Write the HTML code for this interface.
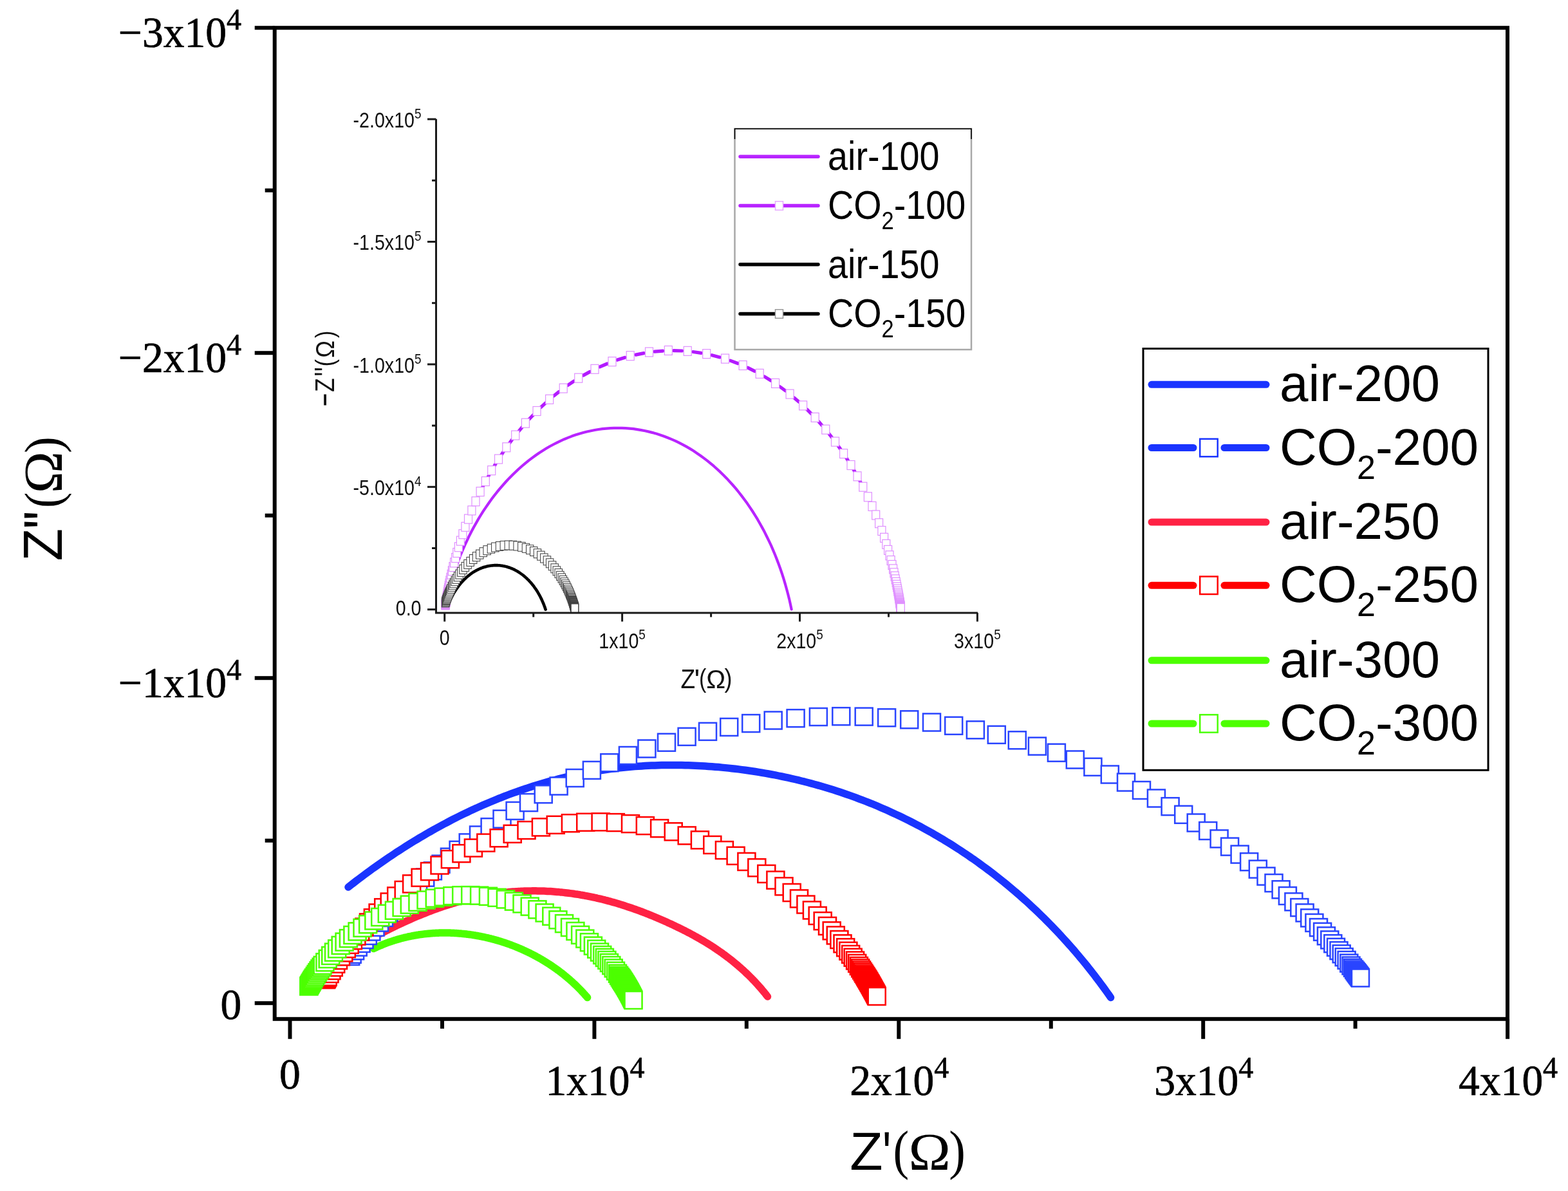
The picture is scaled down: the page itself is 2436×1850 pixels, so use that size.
<!DOCTYPE html>
<html lang="en"><head><meta charset="utf-8"><title>Nyquist plot</title>
<style>html,body{margin:0;padding:0;background:#fff}svg{display:block}.ser{font-family:"Liberation Serif","Noto Serif CJK SC",serif}.san{font-family:"Liberation Sans","Noto Sans CJK SC",sans-serif}</style></head><body>
<svg xmlns="http://www.w3.org/2000/svg" width="2436" height="1850" viewBox="0 0 2436 1850">
<rect width="2436" height="1850" fill="#fff"/>
<g>
<g id="main-series">
<path d="M541 1378 L545.1 1374.8 L549.2 1371.6 L553.3 1368.4 L557.5 1365.2 L561.7 1362.1 L565.8 1359 L570 1355.9 L574.2 1352.8 L578.5 1349.7 L582.7 1346.7 L586.9 1343.7 L591.2 1340.7 L595.5 1337.7 L599.8 1334.7 L604.1 1331.8 L608.4 1328.9 L612.8 1326 L617.1 1323.1 L621.5 1320.3 L625.9 1317.5 L630.3 1314.7 L634.7 1311.9 L639.1 1309.1 L643.6 1306.4 L648.1 1303.7 L652.5 1301 L657 1298.4 L661.5 1295.8 L666 1293.1 L670.6 1290.6 L675.1 1288 L679.7 1285.5 L684.3 1283 L688.8 1280.5 L693.5 1278.1 L698.1 1275.6 L702.7 1273.2 L707.3 1270.9 L712 1268.5 L716.7 1266.2 L721.4 1263.9 L726.1 1261.7 L730.8 1259.4 L735.5 1257.2 L740.3 1255.1 L745 1252.9 L749.8 1250.8 L754.6 1248.7 L759.4 1246.7 L764.2 1244.7 L769 1242.7 L773.8 1240.7 L778.7 1238.8 L783.5 1236.9 L788.4 1235 L793.3 1233.2 L798.2 1231.4 L803.1 1229.7 L808 1227.9 L812.9 1226.2 L817.9 1224.6 L822.8 1222.9 L827.8 1221.3 L832.8 1219.8 L837.8 1218.3 L842.8 1216.8 L847.8 1215.3 L852.8 1213.9 L857.8 1212.5 L862.9 1211.2 L867.9 1209.9 L873 1208.6 L878.1 1207.4 L883.1 1206.2 L888.2 1205.1 L893.3 1204 L898.4 1202.9 L903.5 1201.9 L908.7 1200.9 L913.8 1199.9 L918.9 1199 L924.1 1198.1 L929.2 1197.3 L934.4 1196.5 L939.5 1195.8 L944.7 1195 L949.9 1194.4 L955 1193.7 L960.2 1193.1 L965.4 1192.5 L970.6 1192 L975.8 1191.5 L981 1191.1 L986.2 1190.6 L991.4 1190.3 L996.6 1189.9 L1001.8 1189.6 L1007 1189.3 L1012.2 1189.1 L1017.4 1188.9 L1022.6 1188.7 L1027.8 1188.6 L1033.1 1188.5 L1038.3 1188.5 L1043.5 1188.4 L1048.7 1188.4 L1053.9 1188.5 L1059.1 1188.6 L1064.4 1188.7 L1069.6 1188.8 L1074.8 1189 L1080 1189.2 L1085.2 1189.4 L1090.4 1189.7 L1095.6 1190 L1100.8 1190.4 L1106 1190.7 L1111.2 1191.2 L1116.4 1191.6 L1121.6 1192.1 L1126.8 1192.6 L1132 1193.1 L1137.2 1193.7 L1142.4 1194.3 L1147.5 1194.9 L1152.7 1195.6 L1157.9 1196.3 L1163 1197 L1168.2 1197.7 L1173.4 1198.5 L1178.5 1199.4 L1183.7 1200.2 L1188.8 1201.1 L1193.9 1202 L1199.1 1203 L1204.2 1203.9 L1209.3 1205 L1214.4 1206 L1219.5 1207.1 L1224.6 1208.2 L1229.7 1209.3 L1234.8 1210.5 L1239.8 1211.7 L1244.9 1213 L1250 1214.2 L1255 1215.5 L1260.1 1216.9 L1265.1 1218.2 L1270.1 1219.6 L1275.1 1221.1 L1280.1 1222.5 L1285.1 1224 L1290.1 1225.6 L1295.1 1227.1 L1300.1 1228.7 L1305 1230.3 L1310 1232 L1314.9 1233.7 L1319.8 1235.4 L1324.7 1237.1 L1329.6 1238.9 L1334.5 1240.8 L1339.4 1242.6 L1344.3 1244.5 L1349.1 1246.4 L1354 1248.3 L1358.8 1250.3 L1363.6 1252.3 L1368.4 1254.4 L1373.2 1256.5 L1378 1258.6 L1382.7 1260.7 L1387.5 1262.9 L1392.2 1265.1 L1396.9 1267.3 L1401.6 1269.5 L1406.3 1271.8 L1411 1274.2 L1415.6 1276.5 L1420.2 1278.9 L1424.9 1281.3 L1429.5 1283.7 L1434.1 1286.2 L1438.6 1288.7 L1443.2 1291.3 L1447.8 1293.8 L1452.3 1296.4 L1456.8 1299 L1461.3 1301.7 L1465.8 1304.3 L1470.2 1307.1 L1474.7 1309.8 L1479.1 1312.5 L1483.5 1315.3 L1487.9 1318.2 L1492.3 1321 L1496.6 1323.9 L1500.9 1326.8 L1505.3 1329.7 L1509.5 1332.7 L1513.8 1335.6 L1518.1 1338.7 L1522.3 1341.7 L1526.5 1344.8 L1530.7 1347.9 L1534.9 1351 L1539.1 1354.1 L1543.2 1357.3 L1547.3 1360.5 L1551.4 1363.7 L1555.5 1367 L1559.6 1370.2 L1563.6 1373.5 L1567.6 1376.9 L1571.6 1380.2 L1575.6 1383.6 L1579.6 1387 L1583.5 1390.4 L1587.4 1393.9 L1591.3 1397.3 L1595.2 1400.8 L1599 1404.3 L1602.9 1407.9 L1606.7 1411.4 L1610.5 1415 L1614.2 1418.6 L1618 1422.3 L1621.7 1425.9 L1625.4 1429.6 L1629 1433.3 L1632.7 1437 L1636.3 1440.8 L1639.9 1444.5 L1643.5 1448.3 L1647.1 1452.1 L1650.6 1456 L1654.1 1459.8 L1657.6 1463.7 L1661.1 1467.6 L1664.6 1471.5 L1668 1475.4 L1671.4 1479.4 L1674.8 1483.4 L1678.1 1487.4 L1681.5 1491.4 L1684.8 1495.4 L1688.1 1499.4 L1691.3 1503.5 L1694.6 1507.6 L1697.8 1511.7 L1701 1515.8 L1704.1 1520 L1707.3 1524.1 L1710.4 1528.3 L1713.5 1532.5 L1716.5 1536.7 L1719.6 1541 L1722.6 1545.2 L1725.6 1549.5" fill="none" stroke="#1a34ff" stroke-width="11.5" stroke-linecap="round" stroke-linejoin="round"/>
<path d="M592 1450 L594.3 1448.8 L596.5 1447.6 L598.8 1446.5 L601 1445.3 L603.3 1444.2 L605.6 1443 L607.9 1441.9 L610.2 1440.8 L612.4 1439.6 L614.7 1438.5 L617 1437.4 L619.3 1436.3 L621.6 1435.2 L623.9 1434.2 L626.2 1433.1 L628.6 1432 L630.9 1431 L633.2 1429.9 L635.5 1428.9 L637.8 1427.9 L640.2 1426.8 L642.5 1425.8 L644.9 1424.8 L647.2 1423.8 L649.5 1422.8 L651.9 1421.9 L654.3 1420.9 L656.6 1419.9 L659 1419 L661.3 1418.1 L663.7 1417.1 L666.1 1416.2 L668.5 1415.3 L670.9 1414.4 L673.2 1413.5 L675.6 1412.6 L678 1411.8 L680.4 1410.9 L682.8 1410.1 L685.2 1409.2 L687.6 1408.4 L690 1407.6 L692.5 1406.8 L694.9 1406 L697.3 1405.2 L699.7 1404.5 L702.2 1403.7 L704.6 1403 L707 1402.2 L709.5 1401.5 L711.9 1400.8 L714.4 1400.1 L716.8 1399.4 L719.3 1398.8 L721.7 1398.1 L724.2 1397.5 L726.7 1396.8 L729.1 1396.2 L731.6 1395.6 L734.1 1395 L736.6 1394.4 L739.1 1393.9 L741.5 1393.3 L744 1392.8 L746.5 1392.3 L749 1391.8 L751.5 1391.3 L754 1390.8 L756.5 1390.3 L759 1389.9 L761.5 1389.4 L764.1 1389 L766.6 1388.6 L769.1 1388.2 L771.6 1387.9 L774.1 1387.5 L776.7 1387.2 L779.2 1386.9 L781.7 1386.6 L784.2 1386.3 L786.8 1386 L789.3 1385.8 L791.8 1385.5 L794.4 1385.3 L796.9 1385.1 L799.4 1384.9 L802 1384.7 L804.5 1384.6 L807.1 1384.4 L809.6 1384.3 L812.2 1384.2 L814.7 1384.1 L817.2 1384 L819.8 1383.9 L822.3 1383.9 L824.9 1383.9 L827.4 1383.8 L830 1383.8 L832.5 1383.8 L835.1 1383.9 L837.6 1383.9 L840.2 1384 L842.7 1384 L845.2 1384.1 L847.8 1384.2 L850.3 1384.4 L852.9 1384.5 L855.4 1384.6 L858 1384.8 L860.5 1385 L863 1385.2 L865.6 1385.4 L868.1 1385.6 L870.6 1385.9 L873.2 1386.1 L875.7 1386.4 L878.2 1386.7 L880.8 1387 L883.3 1387.3 L885.8 1387.6 L888.3 1387.9 L890.9 1388.3 L893.4 1388.7 L895.9 1389 L898.4 1389.4 L900.9 1389.8 L903.4 1390.3 L906 1390.7 L908.5 1391.2 L911 1391.6 L913.5 1392.1 L916 1392.6 L918.5 1393.1 L920.9 1393.6 L923.4 1394.2 L925.9 1394.7 L928.4 1395.3 L930.9 1395.8 L933.4 1396.4 L935.8 1397 L938.3 1397.6 L940.8 1398.3 L943.2 1398.9 L945.7 1399.6 L948.2 1400.2 L950.6 1400.9 L953.1 1401.6 L955.5 1402.3 L958 1403 L960.4 1403.7 L962.8 1404.5 L965.3 1405.2 L967.7 1406 L970.1 1406.8 L972.5 1407.6 L975 1408.4 L977.4 1409.2 L979.8 1410 L982.2 1410.8 L984.6 1411.7 L987 1412.5 L989.4 1413.4 L991.8 1414.2 L994.2 1415.1 L996.6 1416 L998.9 1416.9 L1001.3 1417.8 L1003.7 1418.8 L1006.1 1419.7 L1008.4 1420.6 L1010.8 1421.6 L1013.1 1422.5 L1015.5 1423.5 L1017.8 1424.5 L1020.2 1425.5 L1022.5 1426.5 L1024.9 1427.5 L1027.2 1428.5 L1029.5 1429.5 L1031.9 1430.5 L1034.2 1431.6 L1036.5 1432.6 L1038.8 1433.7 L1041.2 1434.7 L1043.5 1435.8 L1045.8 1436.9 L1048.1 1438 L1050.4 1439.1 L1052.7 1440.2 L1055 1441.3 L1057.2 1442.4 L1059.5 1443.5 L1061.8 1444.7 L1064.1 1445.8 L1066.3 1447 L1068.6 1448.2 L1070.9 1449.3 L1073.1 1450.5 L1075.3 1451.7 L1077.6 1452.9 L1079.8 1454.2 L1082 1455.4 L1084.3 1456.7 L1086.5 1457.9 L1088.7 1459.2 L1090.9 1460.5 L1093.1 1461.8 L1095.3 1463.1 L1097.4 1464.4 L1099.6 1465.7 L1101.8 1467.1 L1103.9 1468.4 L1106 1469.8 L1108.2 1471.2 L1110.3 1472.6 L1112.4 1474 L1114.5 1475.5 L1116.6 1476.9 L1118.7 1478.4 L1120.8 1479.8 L1122.9 1481.3 L1124.9 1482.8 L1127 1484.3 L1129 1485.8 L1131 1487.4 L1133.1 1488.9 L1135.1 1490.5 L1137.1 1492.1 L1139.1 1493.7 L1141 1495.3 L1143 1496.9 L1144.9 1498.5 L1146.9 1500.2 L1148.8 1501.9 L1150.7 1503.5 L1152.6 1505.2 L1154.5 1506.9 L1156.4 1508.7 L1158.2 1510.4 L1160.1 1512.1 L1161.9 1513.9 L1163.8 1515.7 L1165.6 1517.5 L1167.4 1519.3 L1169.1 1521.1 L1170.9 1522.9 L1172.7 1524.8 L1174.4 1526.6 L1176.1 1528.5 L1177.8 1530.4 L1179.5 1532.3 L1181.2 1534.2 L1182.9 1536.1 L1184.5 1538.1 L1186.1 1540 L1187.8 1542 L1189.4 1544 L1190.9 1546 L1192.5 1548" fill="none" stroke="#ff2244" stroke-width="11.5" stroke-linecap="round" stroke-linejoin="round"/>
<path d="M580.5 1473.5 L581.8 1472.9 L583 1472.3 L584.3 1471.7 L585.6 1471.1 L586.9 1470.5 L588.2 1470 L589.5 1469.4 L590.8 1468.8 L592.1 1468.3 L593.4 1467.8 L594.7 1467.2 L596 1466.7 L597.3 1466.2 L598.6 1465.7 L599.9 1465.2 L601.2 1464.7 L602.6 1464.2 L603.9 1463.7 L605.2 1463.2 L606.5 1462.8 L607.9 1462.3 L609.2 1461.9 L610.6 1461.4 L611.9 1461 L613.2 1460.6 L614.6 1460.2 L615.9 1459.8 L617.3 1459.4 L618.6 1459 L620 1458.6 L621.3 1458.2 L622.7 1457.8 L624.1 1457.5 L625.4 1457.1 L626.8 1456.8 L628.2 1456.4 L629.5 1456.1 L630.9 1455.8 L632.3 1455.5 L633.7 1455.2 L635 1454.8 L636.4 1454.6 L637.8 1454.3 L639.2 1454 L640.6 1453.7 L641.9 1453.5 L643.3 1453.2 L644.7 1453 L646.1 1452.7 L647.5 1452.5 L648.9 1452.3 L650.3 1452 L651.7 1451.8 L653.1 1451.6 L654.5 1451.4 L655.9 1451.3 L657.3 1451.1 L658.7 1450.9 L660.1 1450.7 L661.5 1450.6 L662.9 1450.4 L664.3 1450.3 L665.7 1450.2 L667.1 1450 L668.5 1449.9 L669.9 1449.8 L671.3 1449.7 L672.7 1449.6 L674.1 1449.5 L675.5 1449.4 L676.9 1449.3 L678.3 1449.3 L679.7 1449.2 L681.1 1449.2 L682.5 1449.1 L683.9 1449.1 L685.3 1449 L686.8 1449 L688.2 1449 L689.6 1449 L691 1449 L692.4 1449 L693.8 1449 L695.2 1449 L696.6 1449 L698 1449.1 L699.4 1449.1 L700.8 1449.2 L702.3 1449.2 L703.7 1449.3 L705.1 1449.3 L706.5 1449.4 L707.9 1449.5 L709.3 1449.6 L710.7 1449.7 L712.1 1449.8 L713.5 1449.9 L714.9 1450 L716.3 1450.1 L717.7 1450.3 L719.1 1450.4 L720.5 1450.5 L721.9 1450.7 L723.3 1450.8 L724.7 1451 L726.1 1451.2 L727.5 1451.4 L728.9 1451.5 L730.3 1451.7 L731.7 1451.9 L733.1 1452.1 L734.5 1452.3 L735.9 1452.6 L737.3 1452.8 L738.7 1453 L740.1 1453.3 L741.4 1453.5 L742.8 1453.7 L744.2 1454 L745.6 1454.3 L747 1454.5 L748.4 1454.8 L749.7 1455.1 L751.1 1455.4 L752.5 1455.7 L753.9 1456 L755.3 1456.3 L756.6 1456.6 L758 1456.9 L759.4 1457.3 L760.7 1457.6 L762.1 1457.9 L763.5 1458.3 L764.8 1458.6 L766.2 1459 L767.6 1459.4 L768.9 1459.7 L770.3 1460.1 L771.6 1460.5 L773 1460.9 L774.3 1461.3 L775.7 1461.7 L777 1462.1 L778.4 1462.5 L779.7 1462.9 L781.1 1463.4 L782.4 1463.8 L783.7 1464.2 L785.1 1464.7 L786.4 1465.1 L787.7 1465.6 L789.1 1466.1 L790.4 1466.5 L791.7 1467 L793 1467.5 L794.4 1468 L795.7 1468.5 L797 1469 L798.3 1469.5 L799.6 1470 L800.9 1470.5 L802.2 1471.1 L803.6 1471.6 L804.9 1472.1 L806.2 1472.7 L807.4 1473.2 L808.7 1473.8 L810 1474.4 L811.3 1474.9 L812.6 1475.5 L813.9 1476.1 L815.2 1476.7 L816.5 1477.3 L817.7 1477.9 L819 1478.5 L820.3 1479.1 L821.5 1479.7 L822.8 1480.3 L824.1 1480.9 L825.3 1481.6 L826.6 1482.2 L827.8 1482.9 L829.1 1483.5 L830.3 1484.2 L831.6 1484.8 L832.8 1485.5 L834 1486.2 L835.3 1486.9 L836.5 1487.5 L837.7 1488.2 L839 1488.9 L840.2 1489.6 L841.4 1490.3 L842.6 1491.1 L843.8 1491.8 L845 1492.5 L846.2 1493.2 L847.4 1494 L848.6 1494.7 L849.8 1495.5 L851 1496.2 L852.2 1497 L853.4 1497.8 L854.6 1498.5 L855.7 1499.3 L856.9 1500.1 L858.1 1500.9 L859.2 1501.7 L860.4 1502.5 L861.5 1503.3 L862.7 1504.1 L863.8 1504.9 L865 1505.7 L866.1 1506.6 L867.3 1507.4 L868.4 1508.2 L869.5 1509.1 L870.6 1509.9 L871.8 1510.8 L872.9 1511.7 L874 1512.5 L875.1 1513.4 L876.2 1514.3 L877.3 1515.2 L878.4 1516.1 L879.5 1517 L880.6 1517.9 L881.6 1518.8 L882.7 1519.7 L883.8 1520.6 L884.8 1521.5 L885.9 1522.4 L887 1523.4 L888 1524.3 L889.1 1525.3 L890.1 1526.2 L891.1 1527.2 L892.2 1528.1 L893.2 1529.1 L894.2 1530.1 L895.2 1531 L896.2 1532 L897.2 1533 L898.2 1534 L899.2 1535 L900.2 1536 L901.2 1537 L902.2 1538 L903.2 1539 L904.1 1540.1 L905.1 1541.1 L906.1 1542.1 L907 1543.2 L908 1544.2 L908.9 1545.3 L909.8 1546.3 L910.8 1547.4 L911.7 1548.4 L912.6 1549.5" fill="none" stroke="#4cff00" stroke-width="11.5" stroke-linecap="round" stroke-linejoin="round"/>
<g fill="#fff" stroke="#2a45ff" stroke-width="2.5">
<rect x="531.2" y="1471.9" width="27" height="27"/>
<rect x="533.7" y="1468.8" width="27" height="27"/>
<rect x="538.1" y="1463.3" width="27" height="27"/>
<rect x="542.7" y="1457.6" width="27" height="27"/>
<rect x="547.6" y="1451.9" width="27" height="27"/>
<rect x="552.5" y="1446" width="27" height="27"/>
<rect x="557.8" y="1439.9" width="27" height="27"/>
<rect x="563.4" y="1433.5" width="27" height="27"/>
<rect x="569.5" y="1426.7" width="27" height="27"/>
<rect x="576" y="1419.5" width="27" height="27"/>
<rect x="583" y="1411.9" width="27" height="27"/>
<rect x="590.5" y="1404" width="27" height="27"/>
<rect x="598.5" y="1395.8" width="27" height="27"/>
<rect x="607" y="1387.2" width="27" height="27"/>
<rect x="616.1" y="1378.3" width="27" height="27"/>
<rect x="625.8" y="1369.1" width="27" height="27"/>
<rect x="636.1" y="1359.5" width="27" height="27"/>
<rect x="647.2" y="1349.6" width="27" height="27"/>
<rect x="658.9" y="1339.3" width="27" height="27"/>
<rect x="671.5" y="1328.7" width="27" height="27"/>
<rect x="684.9" y="1317.7" width="27" height="27"/>
<rect x="698.6" y="1306.8" width="27" height="27"/>
<rect x="713.7" y="1295.4" width="27" height="27"/>
<rect x="730" y="1283.5" width="27" height="27"/>
<rect x="747.6" y="1271.2" width="27" height="27"/>
<rect x="766.5" y="1258.7" width="27" height="27"/>
<rect x="786.6" y="1245.9" width="27" height="27"/>
<rect x="808" y="1233.1" width="27" height="27"/>
<rect x="830.7" y="1220.2" width="27" height="27"/>
<rect x="854.6" y="1207.5" width="27" height="27"/>
<rect x="879.7" y="1195" width="27" height="27"/>
<rect x="905.9" y="1182.9" width="27" height="27"/>
<rect x="933.3" y="1171.2" width="27" height="27"/>
<rect x="961.9" y="1160" width="27" height="27"/>
<rect x="991.4" y="1149.5" width="27" height="27"/>
<rect x="1022" y="1139.7" width="27" height="27"/>
<rect x="1053.6" y="1130.8" width="27" height="27"/>
<rect x="1086" y="1122.8" width="27" height="27"/>
<rect x="1119.2" y="1115.9" width="27" height="27"/>
<rect x="1153.2" y="1110.1" width="27" height="27"/>
<rect x="1187.7" y="1105.5" width="27" height="27"/>
<rect x="1222.6" y="1102.2" width="27" height="27"/>
<rect x="1257.9" y="1100" width="27" height="27"/>
<rect x="1293.3" y="1099.2" width="27" height="27"/>
<rect x="1328.7" y="1099.6" width="27" height="27"/>
<rect x="1364.1" y="1101.3" width="27" height="27"/>
<rect x="1399.2" y="1104.3" width="27" height="27"/>
<rect x="1434" y="1108.5" width="27" height="27"/>
<rect x="1468.2" y="1113.8" width="27" height="27"/>
<rect x="1501.9" y="1120.3" width="27" height="27"/>
<rect x="1534.8" y="1127.8" width="27" height="27"/>
<rect x="1566.8" y="1136.3" width="27" height="27"/>
<rect x="1597.9" y="1145.6" width="27" height="27"/>
<rect x="1627.9" y="1155.7" width="27" height="27"/>
<rect x="1656.8" y="1166.5" width="27" height="27"/>
<rect x="1684.4" y="1177.8" width="27" height="27"/>
<rect x="1710.8" y="1189.5" width="27" height="27"/>
<rect x="1736" y="1201.6" width="27" height="27"/>
<rect x="1760" y="1214" width="27" height="27"/>
<rect x="1782.9" y="1226.5" width="27" height="27"/>
<rect x="1804.6" y="1239.2" width="27" height="27"/>
<rect x="1825.2" y="1251.8" width="27" height="27"/>
<rect x="1844.7" y="1264.5" width="27" height="27"/>
<rect x="1863.2" y="1277" width="27" height="27"/>
<rect x="1880.6" y="1289.4" width="27" height="27"/>
<rect x="1897.1" y="1301.6" width="27" height="27"/>
<rect x="1912.6" y="1313.6" width="27" height="27"/>
<rect x="1927.1" y="1325.2" width="27" height="27"/>
<rect x="1940.8" y="1336.6" width="27" height="27"/>
<rect x="1953.5" y="1347.6" width="27" height="27"/>
<rect x="1965.5" y="1358.1" width="27" height="27"/>
<rect x="1976.6" y="1368.3" width="27" height="27"/>
<rect x="1986.9" y="1378" width="27" height="27"/>
<rect x="1996.4" y="1387.3" width="27" height="27"/>
<rect x="2005.3" y="1396.1" width="27" height="27"/>
<rect x="2013.6" y="1404.4" width="27" height="27"/>
<rect x="2021.2" y="1412.4" width="27" height="27"/>
<rect x="2028.4" y="1419.9" width="27" height="27"/>
<rect x="2035" y="1427.1" width="27" height="27"/>
<rect x="2041.1" y="1433.8" width="27" height="27"/>
<rect x="2046.9" y="1440.3" width="27" height="27"/>
<rect x="2052.3" y="1446.4" width="27" height="27"/>
<rect x="2057.3" y="1452.2" width="27" height="27"/>
<rect x="2062" y="1457.8" width="27" height="27"/>
<rect x="2066.5" y="1463.1" width="27" height="27"/>
<rect x="2070.7" y="1468.2" width="27" height="27"/>
<rect x="2074.7" y="1473.1" width="27" height="27"/>
<rect x="2078.6" y="1477.9" width="27" height="27"/>
<rect x="2082.3" y="1482.6" width="27" height="27"/>
<rect x="2085.5" y="1486.5" width="27" height="27"/>
<rect x="2088" y="1489.8" width="27" height="27"/>
<rect x="2090.1" y="1492.5" width="27" height="27"/>
<rect x="2091.6" y="1494.5" width="27" height="27"/>
<rect x="2092.8" y="1496" width="27" height="27"/>
<rect x="2093.7" y="1497.2" width="27" height="27"/>
<rect x="2094.6" y="1498.3" width="27" height="27"/>
<rect x="2095.4" y="1499.4" width="27" height="27"/>
<rect x="2096.2" y="1500.5" width="27" height="27"/>
<rect x="2097" y="1501.5" width="27" height="27"/>
<rect x="2097.8" y="1502.6" width="27" height="27"/>
<rect x="2098.6" y="1503.6" width="27" height="27"/>
<rect x="2099.3" y="1504.6" width="27" height="27"/>
<rect x="2100" y="1505.5" width="27" height="27"/>
</g>
<g fill="#fff" stroke="#ff0000" stroke-width="2.5">
<rect x="493.1" y="1508.1" width="27" height="27"/>
<rect x="493.8" y="1506.8" width="27" height="27"/>
<rect x="494.7" y="1505.3" width="27" height="27"/>
<rect x="495.7" y="1503.7" width="27" height="27"/>
<rect x="498.5" y="1499" width="27" height="27"/>
<rect x="501.5" y="1494.1" width="27" height="27"/>
<rect x="504.8" y="1489" width="27" height="27"/>
<rect x="508.2" y="1483.7" width="27" height="27"/>
<rect x="512" y="1478.1" width="27" height="27"/>
<rect x="516" y="1472.3" width="27" height="27"/>
<rect x="520.3" y="1466.3" width="27" height="27"/>
<rect x="524.8" y="1460.1" width="27" height="27"/>
<rect x="529.7" y="1453.8" width="27" height="27"/>
<rect x="534.9" y="1447.2" width="27" height="27"/>
<rect x="540.4" y="1440.5" width="27" height="27"/>
<rect x="546.2" y="1433.6" width="27" height="27"/>
<rect x="552.4" y="1426.6" width="27" height="27"/>
<rect x="559" y="1419.4" width="27" height="27"/>
<rect x="565.9" y="1412.2" width="27" height="27"/>
<rect x="573.6" y="1404.5" width="27" height="27"/>
<rect x="582.2" y="1396.2" width="27" height="27"/>
<rect x="591.7" y="1387.5" width="27" height="27"/>
<rect x="602.2" y="1378.4" width="27" height="27"/>
<rect x="613.7" y="1369" width="27" height="27"/>
<rect x="626.1" y="1359.4" width="27" height="27"/>
<rect x="639.6" y="1349.7" width="27" height="27"/>
<rect x="654" y="1340.1" width="27" height="27"/>
<rect x="669.5" y="1330.5" width="27" height="27"/>
<rect x="685.9" y="1321.2" width="27" height="27"/>
<rect x="703.4" y="1312.2" width="27" height="27"/>
<rect x="721.9" y="1303.6" width="27" height="27"/>
<rect x="741.3" y="1295.6" width="27" height="27"/>
<rect x="761.6" y="1288.3" width="27" height="27"/>
<rect x="782.7" y="1281.8" width="27" height="27"/>
<rect x="804.5" y="1276.1" width="27" height="27"/>
<rect x="826.9" y="1271.4" width="27" height="27"/>
<rect x="849.7" y="1267.8" width="27" height="27"/>
<rect x="872.9" y="1265.2" width="27" height="27"/>
<rect x="896.2" y="1263.7" width="27" height="27"/>
<rect x="919.6" y="1263.3" width="27" height="27"/>
<rect x="942.9" y="1264.1" width="27" height="27"/>
<rect x="966" y="1266.1" width="27" height="27"/>
<rect x="988.8" y="1269.1" width="27" height="27"/>
<rect x="1011.1" y="1273.2" width="27" height="27"/>
<rect x="1032.7" y="1278.3" width="27" height="27"/>
<rect x="1053.7" y="1284.4" width="27" height="27"/>
<rect x="1073.9" y="1291.3" width="27" height="27"/>
<rect x="1093.3" y="1298.9" width="27" height="27"/>
<rect x="1111.9" y="1307.1" width="27" height="27"/>
<rect x="1129.6" y="1315.8" width="27" height="27"/>
<rect x="1146.4" y="1324.9" width="27" height="27"/>
<rect x="1162.3" y="1334.3" width="27" height="27"/>
<rect x="1177.3" y="1343.9" width="27" height="27"/>
<rect x="1191.4" y="1353.6" width="27" height="27"/>
<rect x="1204.5" y="1363.3" width="27" height="27"/>
<rect x="1216.7" y="1373" width="27" height="27"/>
<rect x="1228" y="1382.4" width="27" height="27"/>
<rect x="1238.4" y="1391.5" width="27" height="27"/>
<rect x="1247.9" y="1400.4" width="27" height="27"/>
<rect x="1256.7" y="1408.9" width="27" height="27"/>
<rect x="1264.7" y="1417.1" width="27" height="27"/>
<rect x="1272" y="1424.9" width="27" height="27"/>
<rect x="1278.7" y="1432.3" width="27" height="27"/>
<rect x="1284.8" y="1439.4" width="27" height="27"/>
<rect x="1290.4" y="1446" width="27" height="27"/>
<rect x="1295.5" y="1452.3" width="27" height="27"/>
<rect x="1300.2" y="1458.2" width="27" height="27"/>
<rect x="1304.4" y="1463.7" width="27" height="27"/>
<rect x="1308.2" y="1468.9" width="27" height="27"/>
<rect x="1311.7" y="1473.7" width="27" height="27"/>
<rect x="1315.1" y="1478.5" width="27" height="27"/>
<rect x="1318.2" y="1482.9" width="27" height="27"/>
<rect x="1320.9" y="1487" width="27" height="27"/>
<rect x="1323.2" y="1490.4" width="27" height="27"/>
<rect x="1325.1" y="1493.4" width="27" height="27"/>
<rect x="1326.9" y="1496.1" width="27" height="27"/>
<rect x="1328.4" y="1498.6" width="27" height="27"/>
<rect x="1329.9" y="1500.9" width="27" height="27"/>
<rect x="1331.2" y="1503" width="27" height="27"/>
<rect x="1332.3" y="1504.9" width="27" height="27"/>
<rect x="1333.4" y="1506.6" width="27" height="27"/>
<rect x="1334.4" y="1508.3" width="27" height="27"/>
<rect x="1335.3" y="1509.8" width="27" height="27"/>
<rect x="1336.2" y="1511.3" width="27" height="27"/>
<rect x="1337" y="1512.8" width="27" height="27"/>
<rect x="1337.9" y="1514.2" width="27" height="27"/>
<rect x="1338.7" y="1515.6" width="27" height="27"/>
<rect x="1339.5" y="1517" width="27" height="27"/>
<rect x="1340.2" y="1518.4" width="27" height="27"/>
<rect x="1341" y="1519.7" width="27" height="27"/>
<rect x="1341.7" y="1521" width="27" height="27"/>
<rect x="1342.4" y="1522.3" width="27" height="27"/>
<rect x="1343.1" y="1523.6" width="27" height="27"/>
<rect x="1343.8" y="1524.8" width="27" height="27"/>
<rect x="1344.5" y="1526.1" width="27" height="27"/>
<rect x="1345.1" y="1527.3" width="27" height="27"/>
<rect x="1345.8" y="1528.4" width="27" height="27"/>
<rect x="1346.4" y="1529.6" width="27" height="27"/>
<rect x="1347" y="1530.7" width="27" height="27"/>
<rect x="1347.6" y="1531.9" width="27" height="27"/>
<rect x="1348.1" y="1532.9" width="27" height="27"/>
<rect x="1348.7" y="1534" width="27" height="27"/>
</g>
<g fill="#fff" stroke="#4cff00" stroke-width="2.5">
<rect x="466.3" y="1518.5" width="27" height="27"/>
<rect x="467" y="1517.2" width="27" height="27"/>
<rect x="467.8" y="1515.8" width="27" height="27"/>
<rect x="468.7" y="1514.3" width="27" height="27"/>
<rect x="469.6" y="1512.7" width="27" height="27"/>
<rect x="470.6" y="1511.1" width="27" height="27"/>
<rect x="471.6" y="1509.3" width="27" height="27"/>
<rect x="472.7" y="1507.5" width="27" height="27"/>
<rect x="474" y="1505.4" width="27" height="27"/>
<rect x="475.8" y="1502.7" width="27" height="27"/>
<rect x="477.6" y="1499.9" width="27" height="27"/>
<rect x="479.5" y="1497.1" width="27" height="27"/>
<rect x="481.5" y="1494.3" width="27" height="27"/>
<rect x="483.5" y="1491.5" width="27" height="27"/>
<rect x="485.6" y="1488.7" width="27" height="27"/>
<rect x="487.7" y="1485.9" width="27" height="27"/>
<rect x="491.4" y="1481.2" width="27" height="27"/>
<rect x="495.7" y="1476" width="27" height="27"/>
<rect x="500.2" y="1470.9" width="27" height="27"/>
<rect x="505" y="1465.6" width="27" height="27"/>
<rect x="510.2" y="1460.3" width="27" height="27"/>
<rect x="515.7" y="1454.9" width="27" height="27"/>
<rect x="521.6" y="1449.6" width="27" height="27"/>
<rect x="527.9" y="1444.1" width="27" height="27"/>
<rect x="534.4" y="1438.9" width="27" height="27"/>
<rect x="541.6" y="1433.4" width="27" height="27"/>
<rect x="549.5" y="1427.8" width="27" height="27"/>
<rect x="558.1" y="1422.2" width="27" height="27"/>
<rect x="567.3" y="1416.5" width="27" height="27"/>
<rect x="577.2" y="1411" width="27" height="27"/>
<rect x="587.8" y="1405.7" width="27" height="27"/>
<rect x="598.9" y="1400.7" width="27" height="27"/>
<rect x="610.6" y="1396" width="27" height="27"/>
<rect x="622.8" y="1391.7" width="27" height="27"/>
<rect x="635.4" y="1387.8" width="27" height="27"/>
<rect x="648.5" y="1384.5" width="27" height="27"/>
<rect x="661.8" y="1381.7" width="27" height="27"/>
<rect x="675.5" y="1379.6" width="27" height="27"/>
<rect x="689.3" y="1378.1" width="27" height="27"/>
<rect x="703.2" y="1377.2" width="27" height="27"/>
<rect x="717.2" y="1377.1" width="27" height="27"/>
<rect x="731.1" y="1377.6" width="27" height="27"/>
<rect x="744.9" y="1378.8" width="27" height="27"/>
<rect x="758.5" y="1380.8" width="27" height="27"/>
<rect x="771.9" y="1383.4" width="27" height="27"/>
<rect x="784.9" y="1386.6" width="27" height="27"/>
<rect x="797.5" y="1390.3" width="27" height="27"/>
<rect x="809.7" y="1394.6" width="27" height="27"/>
<rect x="821.4" y="1399.3" width="27" height="27"/>
<rect x="832.6" y="1404.4" width="27" height="27"/>
<rect x="843.3" y="1409.7" width="27" height="27"/>
<rect x="853.4" y="1415.3" width="27" height="27"/>
<rect x="863" y="1421.1" width="27" height="27"/>
<rect x="872" y="1427" width="27" height="27"/>
<rect x="880.4" y="1432.9" width="27" height="27"/>
<rect x="888.1" y="1438.8" width="27" height="27"/>
<rect x="895.3" y="1444.6" width="27" height="27"/>
<rect x="901.9" y="1450.2" width="27" height="27"/>
<rect x="907.9" y="1455.6" width="27" height="27"/>
<rect x="913.2" y="1460.7" width="27" height="27"/>
<rect x="918" y="1465.5" width="27" height="27"/>
<rect x="922.2" y="1469.9" width="27" height="27"/>
<rect x="925.9" y="1473.9" width="27" height="27"/>
<rect x="929.4" y="1477.9" width="27" height="27"/>
<rect x="932.9" y="1482" width="27" height="27"/>
<rect x="936.3" y="1486.1" width="27" height="27"/>
<rect x="939.7" y="1490.4" width="27" height="27"/>
<rect x="943" y="1494.7" width="27" height="27"/>
<rect x="946" y="1498.8" width="27" height="27"/>
<rect x="948.1" y="1501.8" width="27" height="27"/>
<rect x="949.8" y="1504.3" width="27" height="27"/>
<rect x="951.2" y="1506.3" width="27" height="27"/>
<rect x="952.3" y="1507.9" width="27" height="27"/>
<rect x="953.2" y="1509.4" width="27" height="27"/>
<rect x="954.2" y="1510.9" width="27" height="27"/>
<rect x="955.1" y="1512.3" width="27" height="27"/>
<rect x="956" y="1513.7" width="27" height="27"/>
<rect x="956.9" y="1515.2" width="27" height="27"/>
<rect x="957.8" y="1516.6" width="27" height="27"/>
<rect x="958.6" y="1517.9" width="27" height="27"/>
<rect x="959.4" y="1519.3" width="27" height="27"/>
<rect x="960.2" y="1520.7" width="27" height="27"/>
<rect x="961" y="1522" width="27" height="27"/>
<rect x="961.7" y="1523.3" width="27" height="27"/>
<rect x="962.5" y="1524.6" width="27" height="27"/>
<rect x="963.2" y="1525.9" width="27" height="27"/>
<rect x="963.9" y="1527.1" width="27" height="27"/>
<rect x="964.6" y="1528.4" width="27" height="27"/>
<rect x="965.2" y="1529.6" width="27" height="27"/>
<rect x="965.9" y="1530.8" width="27" height="27"/>
<rect x="966.5" y="1532" width="27" height="27"/>
<rect x="967.1" y="1533.2" width="27" height="27"/>
<rect x="967.7" y="1534.4" width="27" height="27"/>
<rect x="968.3" y="1535.6" width="27" height="27"/>
<rect x="968.9" y="1536.7" width="27" height="27"/>
<rect x="969.4" y="1537.8" width="27" height="27"/>
<rect x="970" y="1538.9" width="27" height="27"/>
<rect x="970.5" y="1540" width="27" height="27"/>
</g>
</g>
<g id="main-axes" stroke="#000" stroke-width="6" fill="none" stroke-linecap="butt">
<rect x="426.7" y="43.2" width="1915.3" height="1539.6"/>
<line x1="395.7" y1="1558.2" x2="426.7" y2="1558.2"/>
<line x1="411.7" y1="1305.7" x2="426.7" y2="1305.7"/>
<line x1="395.7" y1="1053.2" x2="426.7" y2="1053.2"/>
<line x1="411.7" y1="800.7" x2="426.7" y2="800.7"/>
<line x1="395.7" y1="548.2" x2="426.7" y2="548.2"/>
<line x1="411.7" y1="295.7" x2="426.7" y2="295.7"/>
<line x1="395.7" y1="43.2" x2="426.7" y2="43.2"/>
<line x1="450.5" y1="1582.8" x2="450.5" y2="1613.8"/>
<line x1="687" y1="1582.8" x2="687" y2="1597.8"/>
<line x1="923.4" y1="1582.8" x2="923.4" y2="1613.8"/>
<line x1="1159.8" y1="1582.8" x2="1159.8" y2="1597.8"/>
<line x1="1396.3" y1="1582.8" x2="1396.3" y2="1613.8"/>
<line x1="1632.8" y1="1582.8" x2="1632.8" y2="1597.8"/>
<line x1="1869.2" y1="1582.8" x2="1869.2" y2="1613.8"/>
<line x1="2105.6" y1="1582.8" x2="2105.6" y2="1597.8"/>
<line x1="2342.1" y1="1582.8" x2="2342.1" y2="1613.8"/>
</g>
<g id="main-ticklabels" class="ser" font-size="67" fill="#000" stroke="#000" stroke-width="0.7" stroke-linejoin="round">
<text transform="translate(375.2 1583.2) scale(0.978 1)" text-anchor="end">0</text>
<text transform="translate(375 1082.9) scale(0.978 1)" text-anchor="end">−1x10<tspan dy="-27" font-size="47">4</tspan></text>
<text transform="translate(375 577.9) scale(0.978 1)" text-anchor="end">−2x10<tspan dy="-27" font-size="47">4</tspan></text>
<text transform="translate(375 72.9) scale(0.978 1)" text-anchor="end">−3x10<tspan dy="-27" font-size="47">4</tspan></text>
<text transform="translate(450.5 1691) scale(0.978 1)" text-anchor="middle">0</text>
<text transform="translate(924.4 1701) scale(0.978 1)" text-anchor="middle">1x10<tspan dy="-27" font-size="47">4</tspan></text>
<text transform="translate(1397.3 1701) scale(0.978 1)" text-anchor="middle">2x10<tspan dy="-27" font-size="47">4</tspan></text>
<text transform="translate(1870.2 1701) scale(0.978 1)" text-anchor="middle">3x10<tspan dy="-27" font-size="47">4</tspan></text>
<text transform="translate(2343.1 1701) scale(0.978 1)" text-anchor="middle">4x10<tspan dy="-27" font-size="47">4</tspan></text>
</g>
<g id="x-title" fill="#000">
<text class="san" font-size="100" transform="matrix(0.84 0 0 0.84 1320.31 1816.5)">Z</text>
<text class="san" font-size="100" transform="matrix(0.7 0 0 0.99 1370.93 1826.44)">&#39;</text>
<text class="ser" font-size="100" transform="matrix(0.74 0 0 0.84 1387.55 1815.45)">(</text>
<text class="ser" font-size="100" transform="matrix(0.88 0 0 0.83 1411.53 1816.5)">Ω</text>
<text class="ser" font-size="100" transform="matrix(0.77 0 0 0.84 1474.22 1815.45)">)</text>
</g>
<g id="y-title" fill="#000">
<text class="san" font-size="100" transform="matrix(0 -0.83 0.85 0 95.9 871.46)">Z</text>
<text class="san" font-size="100" transform="matrix(0 -0.83 0.93 0 101.52 822.15)">&#39;</text>
<text class="san" font-size="100" transform="matrix(0 -0.83 0.93 0 101.52 808.75)">&#39;</text>
<text class="ser" font-size="100" transform="matrix(0 -0.73 0.81 0 93.89 788.9)">(</text>
<text class="ser" font-size="100" transform="matrix(0 -0.88 0.84 0 95.9 766.17)">Ω</text>
<text class="ser" font-size="100" transform="matrix(0 -0.78 0.81 0 93.89 703.9)">)</text>
</g>
<g id="main-legend">
<rect x="1776" y="541.5" width="536" height="654.8" fill="#fff" stroke="#000" stroke-width="3"/>
<path d="M1789 597.3 L1967 597.3" fill="none" stroke="#1a34ff" stroke-width="11" stroke-linecap="round" stroke-linejoin="round"/>
<text class="san" x="1988" y="623.3" font-size="80" fill="#000">air-200</text>
<path d="M1789 695.5 L1854 695.5" fill="none" stroke="#1a34ff" stroke-width="11" stroke-linecap="round" stroke-linejoin="round"/>
<path d="M1902 695.5 L1967 695.5" fill="none" stroke="#1a34ff" stroke-width="11" stroke-linecap="round" stroke-linejoin="round"/>
<g fill="#fff" stroke="#1a34ff" stroke-width="2.5">
<rect x="1864.2" y="681.8" width="27.5" height="27.5"/>
</g>
<text class="san" x="1988" y="721.5" font-size="80" fill="#000">CO<tspan dy="22" font-size="52">2</tspan><tspan dy="-22">-200</tspan></text>
<path d="M1789 811.1 L1967 811.1" fill="none" stroke="#ff2244" stroke-width="11" stroke-linecap="round" stroke-linejoin="round"/>
<text class="san" x="1988" y="837.1" font-size="80" fill="#000">air-250</text>
<path d="M1789 909.3 L1854 909.3" fill="none" stroke="#ff0000" stroke-width="11" stroke-linecap="round" stroke-linejoin="round"/>
<path d="M1902 909.3 L1967 909.3" fill="none" stroke="#ff0000" stroke-width="11" stroke-linecap="round" stroke-linejoin="round"/>
<g fill="#fff" stroke="#ff0000" stroke-width="2.5">
<rect x="1864.2" y="895.5" width="27.5" height="27.5"/>
</g>
<text class="san" x="1988" y="935.3" font-size="80" fill="#000">CO<tspan dy="22" font-size="52">2</tspan><tspan dy="-22">-250</tspan></text>
<path d="M1789 1025.8 L1967 1025.8" fill="none" stroke="#4cff00" stroke-width="11" stroke-linecap="round" stroke-linejoin="round"/>
<text class="san" x="1988" y="1051.8" font-size="80" fill="#000">air-300</text>
<path d="M1789 1124 L1854 1124" fill="none" stroke="#4cff00" stroke-width="11" stroke-linecap="round" stroke-linejoin="round"/>
<path d="M1902 1124 L1967 1124" fill="none" stroke="#4cff00" stroke-width="11" stroke-linecap="round" stroke-linejoin="round"/>
<g fill="#fff" stroke="#4cff00" stroke-width="2.5">
<rect x="1864.2" y="1110.2" width="27.5" height="27.5"/>
</g>
<text class="san" x="1988" y="1150" font-size="80" fill="#000">CO<tspan dy="22" font-size="52">2</tspan><tspan dy="-22">-300</tspan></text>
</g>
<g id="inset">
<path d="M692 938 L693.8 930 L695.8 922.2 L697.9 914.3 L700.1 906.5 L702.4 898.8 L704.9 891.2 L707.4 883.7 L710.1 876.2 L712.9 868.8 L715.8 861.5 L718.9 854.2 L722 847.1 L725.3 840.1 L728.6 833.1 L732.1 826.3 L735.7 819.6 L739.4 812.9 L743.1 806.4 L747 800 L751 793.7 L755.1 787.6 L759.3 781.5 L763.5 775.6 L767.9 769.8 L772.3 764.2 L776.9 758.7 L781.5 753.3 L786.2 748 L791 742.9 L795.9 738 L800.8 733.2 L805.8 728.5 L810.9 724 L816.1 719.6 L821.3 715.4 L826.6 711.4 L831.9 707.5 L837.3 703.7 L842.8 700.2 L848.3 696.8 L853.9 693.5 L859.5 690.5 L865.2 687.6 L870.9 684.8 L876.7 682.2 L882.4 679.9 L888.3 677.6 L894.1 675.6 L900 673.7 L906 672 L911.9 670.5 L917.9 669.2 L923.9 668 L929.9 667 L935.9 666.2 L941.9 665.6 L948 665.1 L954 664.9 L960.1 664.8 L966.1 664.9 L972.1 665.2 L978.2 665.6 L984.2 666.2 L990.2 667.1 L996.2 668.1 L1002.2 669.2 L1008.2 670.6 L1014.1 672.1 L1020.1 673.8 L1026 675.7 L1031.8 677.7 L1037.6 680 L1043.4 682.4 L1049.2 684.9 L1054.9 687.7 L1060.6 690.6 L1066.2 693.7 L1071.8 696.9 L1077.3 700.3 L1082.7 703.9 L1088.2 707.7 L1093.5 711.6 L1098.8 715.6 L1104 719.8 L1109.2 724.2 L1114.2 728.7 L1119.3 733.4 L1124.2 738.2 L1129.1 743.2 L1133.8 748.3 L1138.5 753.5 L1143.2 758.9 L1147.7 764.5 L1152.1 770.1 L1156.5 775.9 L1160.8 781.8 L1164.9 787.9 L1169 794 L1173 800.3 L1176.9 806.7 L1180.6 813.3 L1184.3 819.9 L1187.9 826.6 L1191.3 833.5 L1194.7 840.4 L1198 847.4 L1201.1 854.6 L1204.1 861.8 L1207 869.1 L1209.8 876.5 L1212.5 884 L1215.1 891.6 L1217.5 899.2 L1219.8 906.9 L1222 914.7 L1224.1 922.5 L1226.1 930.4 L1227.9 938.4 L1229.6 946.4" fill="none" stroke="#b824ff" stroke-width="4.2" stroke-linecap="round" stroke-linejoin="round"/>
<path d="M696.4 939.3 L697.2 937.4 L697.9 935.5 L698.8 933.6 L699.6 931.8 L700.5 930 L701.3 928.2 L702.3 926.4 L703.2 924.6 L704.1 922.9 L705.1 921.2 L706.1 919.5 L707.2 917.9 L708.2 916.3 L709.3 914.7 L710.4 913.1 L711.5 911.6 L712.6 910 L713.8 908.6 L715 907.1 L716.1 905.7 L717.4 904.3 L718.6 902.9 L719.8 901.6 L721.1 900.3 L722.4 899.1 L723.7 897.8 L725 896.6 L726.3 895.5 L727.7 894.3 L729.1 893.3 L730.4 892.2 L731.8 891.2 L733.2 890.2 L734.7 889.2 L736.1 888.3 L737.5 887.5 L739 886.6 L740.5 885.8 L741.9 885.1 L743.4 884.3 L744.9 883.7 L746.4 883 L747.9 882.4 L749.5 881.8 L751 881.3 L752.5 880.8 L754.1 880.4 L755.6 880 L757.2 879.6 L758.7 879.3 L760.3 879 L761.9 878.7 L763.4 878.5 L765 878.4 L766.6 878.2 L768.1 878.1 L769.7 878.1 L771.3 878.1 L772.9 878.1 L774.5 878.2 L776 878.3 L777.6 878.5 L779.2 878.7 L780.7 878.9 L782.3 879.2 L783.9 879.5 L785.4 879.9 L787 880.3 L788.5 880.7 L790 881.2 L791.6 881.7 L793.1 882.3 L794.6 882.9 L796.1 883.5 L797.6 884.2 L799.1 884.9 L800.6 885.7 L802.1 886.5 L803.5 887.3 L805 888.1 L806.4 889.1 L807.8 890 L809.2 891 L810.6 892 L812 893 L813.4 894.1 L814.7 895.2 L816.1 896.4 L817.4 897.6 L818.7 898.8 L820 900.1 L821.3 901.3 L822.5 902.7 L823.7 904 L825 905.4 L826.2 906.8 L827.3 908.3 L828.5 909.7 L829.6 911.2 L830.7 912.8 L831.8 914.3 L832.9 915.9 L834 917.5 L835 919.2 L836 920.9 L837 922.6 L838 924.3 L838.9 926 L839.8 927.8 L840.7 929.6 L841.6 931.4 L842.4 933.3 L843.2 935.1 L844 937 L844.8 938.9 L845.5 940.8 L846.3 942.8 L846.9 944.7 L847.6 946.7" fill="none" stroke="#000" stroke-width="4.6" stroke-linecap="round" stroke-linejoin="round"/>
<path d="M750 756.1L750.5 755.2M758.5 740.2L759.6 738.2M768.1 723.5L770.1 720.3M779.2 706L782 701.9M791.8 688L795.6 682.9M806.1 669.6L811 663.8M822.2 651L828.2 644.7M840.3 632.7L847.4 626.1M860.3 615L868.6 608.4M882.2 598.3L891.7 592M906.1 583.1L916.6 577.4M931.8 569.9L943.2 565M959.1 559.1L971.1 555.3M987.6 551.1L1000.1 548.6M1016.9 546.2L1029.8 545.1M1046.8 544.7L1059.7 545M1076.6 546.5L1089.3 548.4M1106 551.7L1118.3 554.9M1134.5 560.1L1146.2 564.5M1161.7 571.2L1172.6 576.6M1187.5 584.9L1197.4 591M1211.4 600.5L1220.3 607M1233.5 617.7L1241.2 624.3M1253.6 635.9L1260.1 642.4M1271.8 654.8L1277.1 660.9M1288 673.9L1292.3 679.4M1302.4 693L1305.7 697.6M1315.1 711.7L1317.4 715.4M1326.3 729.9L1327.8 732.4M1336 747.3L1336.8 748.7" fill="none" stroke="#b31aff" stroke-width="5.2" stroke-linecap="round"/>
<g fill="#fff" stroke="#df90ff" stroke-width="1.2">
<rect x="686" y="933" width="12" height="14"/>
<rect x="686.1" y="932.3" width="12" height="14"/>
<rect x="686.2" y="931.5" width="12" height="14"/>
<rect x="686.4" y="930.6" width="12" height="14"/>
<rect x="686.5" y="929.7" width="12" height="14"/>
<rect x="686.7" y="928.6" width="12" height="14"/>
<rect x="686.9" y="927.5" width="12" height="14"/>
<rect x="687.1" y="926.2" width="12" height="14"/>
<rect x="687.3" y="924.7" width="12" height="14"/>
<rect x="687.6" y="923.2" width="12" height="14"/>
<rect x="687.9" y="921.4" width="12" height="14"/>
<rect x="688.2" y="919.5" width="12" height="14"/>
<rect x="688.6" y="917.4" width="12" height="14"/>
<rect x="689" y="915.1" width="12" height="14"/>
<rect x="689.5" y="912.5" width="12" height="14"/>
<rect x="690" y="909.6" width="12" height="14"/>
<rect x="690.6" y="906.5" width="12" height="14"/>
<rect x="691.3" y="903" width="12" height="14"/>
<rect x="692" y="899.2" width="12" height="14"/>
<rect x="692.9" y="895" width="12" height="14"/>
<rect x="693.9" y="890.4" width="12" height="14"/>
<rect x="695.1" y="885.3" width="12" height="14"/>
<rect x="696.4" y="879.7" width="12" height="14"/>
<rect x="697.9" y="873.6" width="12" height="14"/>
<rect x="699.6" y="866.9" width="12" height="14"/>
<rect x="701.6" y="859.5" width="12" height="14"/>
<rect x="703.8" y="851.5" width="12" height="14"/>
<rect x="706.4" y="842.7" width="12" height="14"/>
<rect x="709.4" y="833.1" width="12" height="14"/>
<rect x="712.9" y="822.7" width="12" height="14"/>
<rect x="716.9" y="811.3" width="12" height="14"/>
<rect x="721.5" y="799.1" width="12" height="14"/>
<rect x="726.9" y="785.9" width="12" height="14"/>
<rect x="733" y="771.8" width="12" height="14"/>
<rect x="740.1" y="756.7" width="12" height="14"/>
<rect x="748.3" y="740.6" width="12" height="14"/>
<rect x="757.7" y="723.7" width="12" height="14"/>
<rect x="768.5" y="706.1" width="12" height="14"/>
<rect x="780.8" y="687.8" width="12" height="14"/>
<rect x="794.7" y="669.1" width="12" height="14"/>
<rect x="810.4" y="650.2" width="12" height="14"/>
<rect x="828" y="631.5" width="12" height="14"/>
<rect x="847.6" y="613.3" width="12" height="14"/>
<rect x="869.2" y="596.1" width="12" height="14"/>
<rect x="892.7" y="580.2" width="12" height="14"/>
<rect x="918" y="566.3" width="12" height="14"/>
<rect x="945" y="554.6" width="12" height="14"/>
<rect x="973.2" y="545.7" width="12" height="14"/>
<rect x="1002.5" y="539.9" width="12" height="14"/>
<rect x="1032.3" y="537.4" width="12" height="14"/>
<rect x="1062.2" y="538.3" width="12" height="14"/>
<rect x="1091.7" y="542.6" width="12" height="14"/>
<rect x="1120.5" y="550.1" width="12" height="14"/>
<rect x="1148.1" y="560.5" width="12" height="14"/>
<rect x="1174.2" y="573.4" width="12" height="14"/>
<rect x="1198.6" y="588.4" width="12" height="14"/>
<rect x="1221.1" y="605.1" width="12" height="14"/>
<rect x="1241.6" y="622.9" width="12" height="14"/>
<rect x="1260.2" y="641.4" width="12" height="14"/>
<rect x="1276.8" y="660.2" width="12" height="14"/>
<rect x="1291.5" y="679.1" width="12" height="14"/>
<rect x="1304.6" y="697.6" width="12" height="14"/>
<rect x="1316" y="715.5" width="12" height="14"/>
<rect x="1326" y="732.8" width="12" height="14"/>
<rect x="1334.8" y="749.2" width="12" height="14"/>
<rect x="1342.4" y="764.8" width="12" height="14"/>
<rect x="1349" y="779.4" width="12" height="14"/>
<rect x="1354.7" y="793" width="12" height="14"/>
<rect x="1359.6" y="805.7" width="12" height="14"/>
<rect x="1363.9" y="817.5" width="12" height="14"/>
<rect x="1367.6" y="828.3" width="12" height="14"/>
<rect x="1370.8" y="838.3" width="12" height="14"/>
<rect x="1373.6" y="847.4" width="12" height="14"/>
<rect x="1376" y="855.8" width="12" height="14"/>
<rect x="1378.1" y="863.5" width="12" height="14"/>
<rect x="1380" y="870.5" width="12" height="14"/>
<rect x="1381.6" y="876.9" width="12" height="14"/>
<rect x="1383" y="882.8" width="12" height="14"/>
<rect x="1384.2" y="888.1" width="12" height="14"/>
<rect x="1385.2" y="892.9" width="12" height="14"/>
<rect x="1386.2" y="897.3" width="12" height="14"/>
<rect x="1387" y="901.3" width="12" height="14"/>
<rect x="1387.7" y="904.9" width="12" height="14"/>
<rect x="1388.4" y="908.2" width="12" height="14"/>
<rect x="1388.9" y="911.2" width="12" height="14"/>
<rect x="1389.4" y="913.9" width="12" height="14"/>
<rect x="1389.9" y="916.3" width="12" height="14"/>
<rect x="1390.2" y="918.5" width="12" height="14"/>
<rect x="1390.6" y="920.6" width="12" height="14"/>
<rect x="1390.9" y="922.4" width="12" height="14"/>
<rect x="1391.2" y="924" width="12" height="14"/>
<rect x="1391.4" y="925.5" width="12" height="14"/>
<rect x="1391.7" y="926.9" width="12" height="14"/>
<rect x="1391.8" y="928.1" width="12" height="14"/>
<rect x="1392" y="929.2" width="12" height="14"/>
<rect x="1392.2" y="930.2" width="12" height="14"/>
<rect x="1392.3" y="931.1" width="12" height="14"/>
<rect x="1392.5" y="931.9" width="12" height="14"/>
<rect x="1392.6" y="932.7" width="12" height="14"/>
<rect x="1392.7" y="933.3" width="12" height="14"/>
<rect x="1392.8" y="934" width="12" height="14"/>
<rect x="1392.8" y="934.5" width="12" height="14"/>
<rect x="1392.9" y="935" width="12" height="14"/>
<rect x="1393" y="935.5" width="12" height="14"/>
<rect x="1393" y="935.9" width="12" height="14"/>
<rect x="1393.1" y="936.2" width="12" height="14"/>
<rect x="1393.1" y="936.6" width="12" height="14"/>
<rect x="1393.2" y="936.9" width="12" height="14"/>
<rect x="1393.2" y="937.1" width="12" height="14"/>
<rect x="1393.3" y="937.4" width="12" height="14"/>
<rect x="1393.3" y="937.6" width="12" height="14"/>
</g>
<g fill="#fff" stroke="#3c3c3c" stroke-width="1.0">
<rect x="686.3" y="929" width="11.5" height="14"/>
<rect x="686.6" y="928" width="11.5" height="14"/>
<rect x="686.9" y="927" width="11.5" height="14"/>
<rect x="687.3" y="925.8" width="11.5" height="14"/>
<rect x="687.7" y="924.5" width="11.5" height="14"/>
<rect x="688.2" y="923.2" width="11.5" height="14"/>
<rect x="688.8" y="921.7" width="11.5" height="14"/>
<rect x="689.4" y="920.1" width="11.5" height="14"/>
<rect x="690" y="918.4" width="11.5" height="14"/>
<rect x="690.8" y="916.5" width="11.5" height="14"/>
<rect x="691.6" y="914.5" width="11.5" height="14"/>
<rect x="692.6" y="912.3" width="11.5" height="14"/>
<rect x="693.6" y="910" width="11.5" height="14"/>
<rect x="694.8" y="907.5" width="11.5" height="14"/>
<rect x="696.1" y="904.8" width="11.5" height="14"/>
<rect x="697.5" y="901.9" width="11.5" height="14"/>
<rect x="699.2" y="898.9" width="11.5" height="14"/>
<rect x="701" y="895.7" width="11.5" height="14"/>
<rect x="703" y="892.3" width="11.5" height="14"/>
<rect x="705.3" y="888.8" width="11.5" height="14"/>
<rect x="707.8" y="885.1" width="11.5" height="14"/>
<rect x="710.6" y="881.3" width="11.5" height="14"/>
<rect x="713.7" y="877.4" width="11.5" height="14"/>
<rect x="717.1" y="873.4" width="11.5" height="14"/>
<rect x="720.8" y="869.4" width="11.5" height="14"/>
<rect x="724.9" y="865.4" width="11.5" height="14"/>
<rect x="729.4" y="861.5" width="11.5" height="14"/>
<rect x="734.3" y="857.7" width="11.5" height="14"/>
<rect x="739.5" y="854.1" width="11.5" height="14"/>
<rect x="745" y="850.7" width="11.5" height="14"/>
<rect x="750.9" y="847.7" width="11.5" height="14"/>
<rect x="757.2" y="845.2" width="11.5" height="14"/>
<rect x="763.6" y="843" width="11.5" height="14"/>
<rect x="770.3" y="841.4" width="11.5" height="14"/>
<rect x="777.1" y="840.4" width="11.5" height="14"/>
<rect x="784.1" y="840" width="11.5" height="14"/>
<rect x="791" y="840.2" width="11.5" height="14"/>
<rect x="797.9" y="841" width="11.5" height="14"/>
<rect x="804.6" y="842.3" width="11.5" height="14"/>
<rect x="811.2" y="844.3" width="11.5" height="14"/>
<rect x="817.5" y="846.7" width="11.5" height="14"/>
<rect x="823.5" y="849.5" width="11.5" height="14"/>
<rect x="829.2" y="852.7" width="11.5" height="14"/>
<rect x="834.6" y="856.2" width="11.5" height="14"/>
<rect x="839.6" y="860" width="11.5" height="14"/>
<rect x="844.2" y="863.8" width="11.5" height="14"/>
<rect x="848.4" y="867.8" width="11.5" height="14"/>
<rect x="852.3" y="871.8" width="11.5" height="14"/>
<rect x="855.9" y="875.8" width="11.5" height="14"/>
<rect x="859.1" y="879.8" width="11.5" height="14"/>
<rect x="862" y="883.6" width="11.5" height="14"/>
<rect x="864.6" y="887.4" width="11.5" height="14"/>
<rect x="867" y="891" width="11.5" height="14"/>
<rect x="869.1" y="894.4" width="11.5" height="14"/>
<rect x="871" y="897.7" width="11.5" height="14"/>
<rect x="872.7" y="900.8" width="11.5" height="14"/>
<rect x="874.2" y="903.7" width="11.5" height="14"/>
<rect x="875.6" y="906.4" width="11.5" height="14"/>
<rect x="876.8" y="909" width="11.5" height="14"/>
<rect x="877.9" y="911.4" width="11.5" height="14"/>
<rect x="878.9" y="913.6" width="11.5" height="14"/>
<rect x="879.7" y="915.7" width="11.5" height="14"/>
<rect x="880.5" y="917.6" width="11.5" height="14"/>
<rect x="881.2" y="919.4" width="11.5" height="14"/>
<rect x="881.9" y="921.1" width="11.5" height="14"/>
<rect x="882.4" y="922.6" width="11.5" height="14"/>
<rect x="882.9" y="924" width="11.5" height="14"/>
<rect x="883.4" y="925.3" width="11.5" height="14"/>
<rect x="883.8" y="926.5" width="11.5" height="14"/>
<rect x="884.2" y="927.6" width="11.5" height="14"/>
<rect x="884.5" y="928.6" width="11.5" height="14"/>
<rect x="884.8" y="929.6" width="11.5" height="14"/>
<rect x="885.1" y="930.4" width="11.5" height="14"/>
<rect x="885.3" y="931.2" width="11.5" height="14"/>
<rect x="885.5" y="931.9" width="11.5" height="14"/>
<rect x="885.7" y="932.6" width="11.5" height="14"/>
<rect x="885.9" y="933.2" width="11.5" height="14"/>
<rect x="886.1" y="933.7" width="11.5" height="14"/>
<rect x="886.2" y="934.2" width="11.5" height="14"/>
<rect x="886.3" y="934.7" width="11.5" height="14"/>
<rect x="886.5" y="935.1" width="11.5" height="14"/>
<rect x="886.6" y="935.5" width="11.5" height="14"/>
<rect x="886.7" y="935.9" width="11.5" height="14"/>
<rect x="886.8" y="936.2" width="11.5" height="14"/>
<rect x="886.8" y="936.5" width="11.5" height="14"/>
<rect x="886.9" y="936.8" width="11.5" height="14"/>
<rect x="887" y="937" width="11.5" height="14"/>
<rect x="887.1" y="937.3" width="11.5" height="14"/>
<rect x="887.1" y="937.5" width="11.5" height="14"/>
<rect x="887.2" y="937.7" width="11.5" height="14"/>
<rect x="887.2" y="937.8" width="11.5" height="14"/>
<rect x="887.2" y="938" width="11.5" height="14"/>
</g>
<g stroke="#1a1a1a" stroke-width="3" fill="none">
<path d="M677.5 185 V952 H1519"/>
<line x1="664" y1="946.7" x2="677.5" y2="946.7"/>
<line x1="671" y1="851.5" x2="677.5" y2="851.5"/>
<line x1="664" y1="756.3" x2="677.5" y2="756.3"/>
<line x1="671" y1="661.1" x2="677.5" y2="661.1"/>
<line x1="664" y1="565.9" x2="677.5" y2="565.9"/>
<line x1="671" y1="470.7" x2="677.5" y2="470.7"/>
<line x1="664" y1="375.5" x2="677.5" y2="375.5"/>
<line x1="671" y1="280.3" x2="677.5" y2="280.3"/>
<line x1="664" y1="185.1" x2="677.5" y2="185.1"/>
<line x1="690.7" y1="952" x2="690.7" y2="965.5"/>
<line x1="828.7" y1="952" x2="828.7" y2="958.5"/>
<line x1="966.6" y1="952" x2="966.6" y2="965.5"/>
<line x1="1104.6" y1="952" x2="1104.6" y2="958.5"/>
<line x1="1242.5" y1="952" x2="1242.5" y2="965.5"/>
<line x1="1380.5" y1="952" x2="1380.5" y2="958.5"/>
<line x1="1518.4" y1="952" x2="1518.4" y2="965.5"/>
</g>
<g class="san" fill="#111">
<text transform="translate(654.5 956) scale(0.88 1)" text-anchor="end" font-size="32.5">0.0</text>
<text transform="translate(654.5 769) scale(0.88 1)" text-anchor="end" font-size="32.5">-5.0x10<tspan dy="-14" font-size="21.5">4</tspan></text>
<text transform="translate(654.5 578.6) scale(0.88 1)" text-anchor="end" font-size="32.5">-1.0x10<tspan dy="-14" font-size="21.5">5</tspan></text>
<text transform="translate(654.5 388.2) scale(0.88 1)" text-anchor="end" font-size="32.5">-1.5x10<tspan dy="-14" font-size="21.5">5</tspan></text>
<text transform="translate(654.5 197.8) scale(0.88 1)" text-anchor="end" font-size="32.5">-2.0x10<tspan dy="-14" font-size="21.5">5</tspan></text>
<text transform="translate(690.7 1001.5) scale(0.88 1)" text-anchor="middle" font-size="32.5">0</text>
<text transform="translate(966.6 1006.9) scale(0.88 1)" text-anchor="middle" font-size="32.5">1x10<tspan dy="-14" font-size="21.5">5</tspan></text>
<text transform="translate(1242.5 1006.9) scale(0.88 1)" text-anchor="middle" font-size="32.5">2x10<tspan dy="-14" font-size="21.5">5</tspan></text>
<text transform="translate(1518.4 1006.9) scale(0.88 1)" text-anchor="middle" font-size="32.5">3x10<tspan dy="-14" font-size="21.5">5</tspan></text>
</g>
<g id="inset-x-title" fill="#111">
<text class="san" font-size="100" transform="matrix(0.37 0 0 0.43 1057.61 1068.8)">Z</text>
<text class="san" font-size="100" transform="matrix(0.46 0 0 0.47 1078.58 1071.59)">&#39;</text>
<text class="san" font-size="100" transform="matrix(0.34 0 0 0.41 1086.09 1068.46)">(</text>
<text class="san" font-size="100" transform="matrix(0.4 0 0 0.4 1097.34 1068.8)">Ω</text>
<text class="san" font-size="100" transform="matrix(0.36 0 0 0.41 1125.48 1068.46)">)</text>
</g>
<g id="inset-y-title" fill="#111">
<text class="san" font-size="100" transform="matrix(0 -0.35 0.54 0 523 631.22)">−</text>
<text class="san" font-size="100" transform="matrix(0 -0.35 0.43 0 519 608.71)">Z</text>
<text class="san" font-size="100" transform="matrix(0 -0.38 0.51 0 524.54 584.83)">&#39;</text>
<text class="san" font-size="100" transform="matrix(0 -0.38 0.51 0 524.54 577.33)">&#39;</text>
<text class="san" font-size="100" transform="matrix(0 -0.34 0.4 0 518.75 569.21)">(</text>
<text class="san" font-size="100" transform="matrix(0 -0.36 0.4 0 519 555.81)">Ω</text>
<text class="san" font-size="100" transform="matrix(0 -0.34 0.4 0 518.75 525.01)">)</text>
</g>
<g id="inset-legend">
<rect x="1141.5" y="200" width="367.5" height="343" fill="#fff" stroke="#a8a8a8" stroke-width="2.5"/>
<path d="M1141.5 216 V200 H1509 V216" fill="none" stroke="#000" stroke-width="1.6"/>
<path d="M1150 243.3 L1271 243.3" fill="none" stroke="#b824ff" stroke-width="5.5" stroke-linecap="round" stroke-linejoin="round"/>
<text class="san" transform="translate(1286 264.1) scale(0.885 1)" font-size="63" fill="#000">air-100</text>
<path d="M1150 319.5 L1271 319.5" fill="none" stroke="#b824ff" stroke-width="5.5" stroke-linecap="round" stroke-linejoin="round"/>
<g fill="#fff" stroke="#e6a8ff" stroke-width="1.5">
<rect x="1204.5" y="312.8" width="12" height="13.5"/>
</g>
<text class="san" transform="translate(1286 340.3) scale(0.885 1)" font-size="63" fill="#000">CO<tspan dy="16" font-size="39">2</tspan><tspan dy="-16">-100</tspan></text>
<path d="M1150 410.8 L1271 410.8" fill="none" stroke="#000" stroke-width="5.5" stroke-linecap="round" stroke-linejoin="round"/>
<text class="san" transform="translate(1286 431.6) scale(0.885 1)" font-size="63" fill="#000">air-150</text>
<path d="M1150 487.5 L1271 487.5" fill="none" stroke="#000" stroke-width="5.5" stroke-linecap="round" stroke-linejoin="round"/>
<g fill="#fff" stroke="#999" stroke-width="1.5">
<rect x="1204.5" y="480.8" width="12" height="13.5"/>
</g>
<text class="san" transform="translate(1286 508.3) scale(0.885 1)" font-size="63" fill="#000">CO<tspan dy="16" font-size="39">2</tspan><tspan dy="-16">-150</tspan></text>
</g>
</g>
</g>
</svg></body></html>
